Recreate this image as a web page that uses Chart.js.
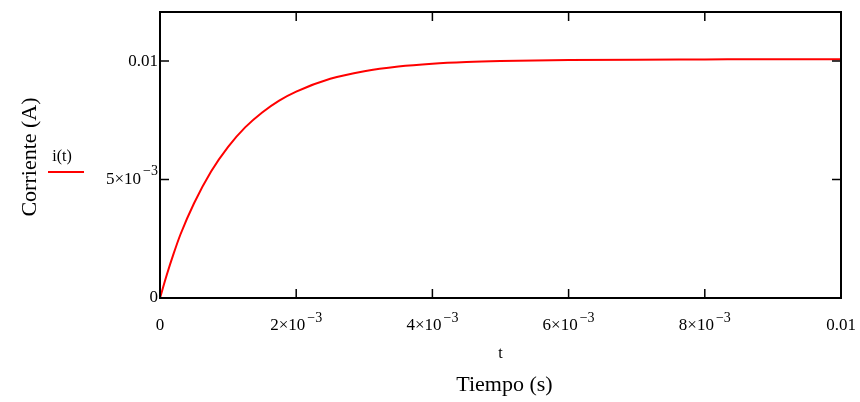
<!DOCTYPE html>
<html>
<head>
<meta charset="utf-8">
<script src="https://cdn.jsdelivr.net/npm/chart.js@4/dist/chart.umd.min.js"></script>
<style>
  html, body { margin: 0; padding: 0; background: #ffffff; }
  #c { display: block; }
</style>
</head>
<body>
<canvas id="c" width="860" height="402"></canvas>
<script>
// Time (s) and current (A)
const tValues = [0, 0.0001, 0.0002, 0.0003, 0.0005, 0.00075, 0.001, 0.00125, 0.0015, 0.00175, 0.002, 0.0025, 0.003, 0.0035, 0.004, 0.0045, 0.005, 0.006, 0.007, 0.008, 0.009, 0.01];
const currentValues = [0, 0.00098, 0.00187, 0.00268, 0.00400, 0.00534, 0.00638, 0.00720, 0.00783, 0.00833, 0.00871, 0.00925, 0.00957, 0.00977, 0.00989, 0.00996, 0.01000, 0.01004, 0.01006, 0.01007, 0.01008, 0.01008];

const xTickValues = [0, 0.002, 0.004, 0.006, 0.008, 0.01];
const xTickLabels = ['0', '2×10⁻³', '4×10⁻³', '6×10⁻³', '8×10⁻³', '0.01'];
const yTickValues = [0, 0.005, 0.01];
const yTickLabels = ['0', '5×10⁻³', '0.01'];

const seriesLabel = 'i(t)';
const yTitle = 'Corriente (A)';
const xVarLabel = 't';
const xTitle = 'Tiempo (s)';

const FONT = '"Liberation Serif", "Times New Roman", "DejaVu Serif", serif';
const SUP = { '⁻': '−', '⁰': '0', '¹': '1', '²': '2', '³': '3', '⁴': '4', '⁵': '5', '⁶': '6', '⁷': '7', '⁸': '8', '⁹': '9' };

// split a label into [base, exponent] using its superscript characters
function splitLabel(s) {
  let base = '', exp = '';
  for (const ch of s) { if (SUP[ch]) exp += SUP[ch]; else base += ch; }
  return [base, exp];
}

// draw a label (with superscript exponent) anchored at (x, y); align: 'center' | 'right'
function drawLabel(ctx, s, x, y, align) {
  const [base, exp] = splitLabel(s);
  ctx.font = '17px ' + FONT;
  const wb = ctx.measureText(base).width;
  ctx.font = '14px ' + FONT;
  const we = exp ? ctx.measureText(exp).width + 2 : 0;
  const w = wb + we;
  const x0 = align === 'right' ? x - w : x - w / 2;
  ctx.textAlign = 'left';
  ctx.textBaseline = 'middle';
  ctx.font = '17px ' + FONT;
  ctx.fillText(base, x0, y);
  if (exp) {
    ctx.font = '14px ' + FONT;
    ctx.fillText(exp, x0 + wb + 2, y - 8);
  }
}

const framePlugin = {
  id: 'mathcadFrame',
  afterDraw(chart) {
    const ctx = chart.ctx;
    const a = chart.chartArea;
    const xs = chart.scales.x, ys = chart.scales.y;
    ctx.save();
    ctx.strokeStyle = '#000';
    ctx.lineWidth = 2;
    ctx.strokeRect(a.left, a.top, a.right - a.left, a.bottom - a.top);
    const tl = 9;
    ctx.lineWidth = 1.5;
    ctx.beginPath();
    xTickValues.forEach(v => {
      const px = xs.getPixelForValue(v);
      if (px <= a.left + 1 || px >= a.right - 1) return;
      ctx.moveTo(px, a.bottom); ctx.lineTo(px, a.bottom - tl);
      ctx.moveTo(px, a.top); ctx.lineTo(px, a.top + tl);
    });
    yTickValues.forEach(v => {
      const py = ys.getPixelForValue(v);
      if (py >= a.bottom - 1 || py <= a.top + 1) return;
      ctx.moveTo(a.left, py); ctx.lineTo(a.left + tl, py);
      ctx.moveTo(a.right, py); ctx.lineTo(a.right - tl, py);
    });
    ctx.stroke();

    // tick labels
    ctx.fillStyle = '#000';
    xTickValues.forEach((v, i) => drawLabel(ctx, xTickLabels[i], xs.getPixelForValue(v), a.bottom + 28, 'center'));
    yTickValues.forEach((v, i) => drawLabel(ctx, yTickLabels[i], a.left - 2, ys.getPixelForValue(v), 'right'));

    // legend: label above a line sample
    const ds = chart.data.datasets[0];
    ctx.fillStyle = '#000';
    ctx.textAlign = 'center';
    ctx.textBaseline = 'middle';
    ctx.font = '16px ' + FONT;
    ctx.fillText(ds.label, 62, 157);
    ctx.strokeStyle = ds.borderColor;
    ctx.lineWidth = 2;
    ctx.beginPath();
    ctx.moveTo(48, 172); ctx.lineTo(84, 172);
    ctx.stroke();

    // axis titles
    const cx = (a.left + a.right) / 2;
    ctx.fillStyle = '#000';
    ctx.font = '16px ' + FONT;
    ctx.fillText(xVarLabel, cx, 354);
    ctx.font = '22px ' + FONT;
    ctx.fillText(xTitle, cx + 4, 385);
    ctx.save();
    ctx.translate(30, 157);
    ctx.rotate(-Math.PI / 2);
    ctx.fillText(yTitle, 0, 0);
    ctx.restore();
    ctx.restore();
  }
};

new Chart(document.getElementById('c'), {
  type: 'line',
  data: {
    datasets: [{
      label: seriesLabel,
      data: tValues.map((t, i) => ({ x: t, y: currentValues[i] })),
      borderColor: '#ff0000',
      borderWidth: 2,
      pointRadius: 0,
      fill: false,
      cubicInterpolationMode: 'monotone'
    }]
  },
  options: {
    responsive: false,
    animation: false,
    devicePixelRatio: 1,
    layout: { padding: { top: 12, right: 19, left: 0, bottom: 0 } },
    plugins: { legend: { display: false }, title: { display: false }, tooltip: { enabled: false } },
    scales: {
      x: {
        type: 'linear', min: 0, max: 0.01,
        grid: { display: false, drawTicks: false },
        border: { display: false },
        ticks: { display: false },
        afterBuildTicks: s => { s.ticks = xTickValues.map(v => ({ value: v })); },
        afterFit: s => { s.height = 104; s.paddingLeft = 0; s.paddingRight = 0; }
      },
      y: {
        type: 'linear', min: 0, max: 0.01207,
        grid: { display: false, drawTicks: false },
        border: { display: false },
        ticks: { display: false },
        afterBuildTicks: s => { s.ticks = yTickValues.map(v => ({ value: v })); },
        afterFit: s => { s.width = 160; s.paddingTop = 0; s.paddingBottom = 0; }
      }
    }
  },
  plugins: [framePlugin]
});
</script>
</body>
</html>
